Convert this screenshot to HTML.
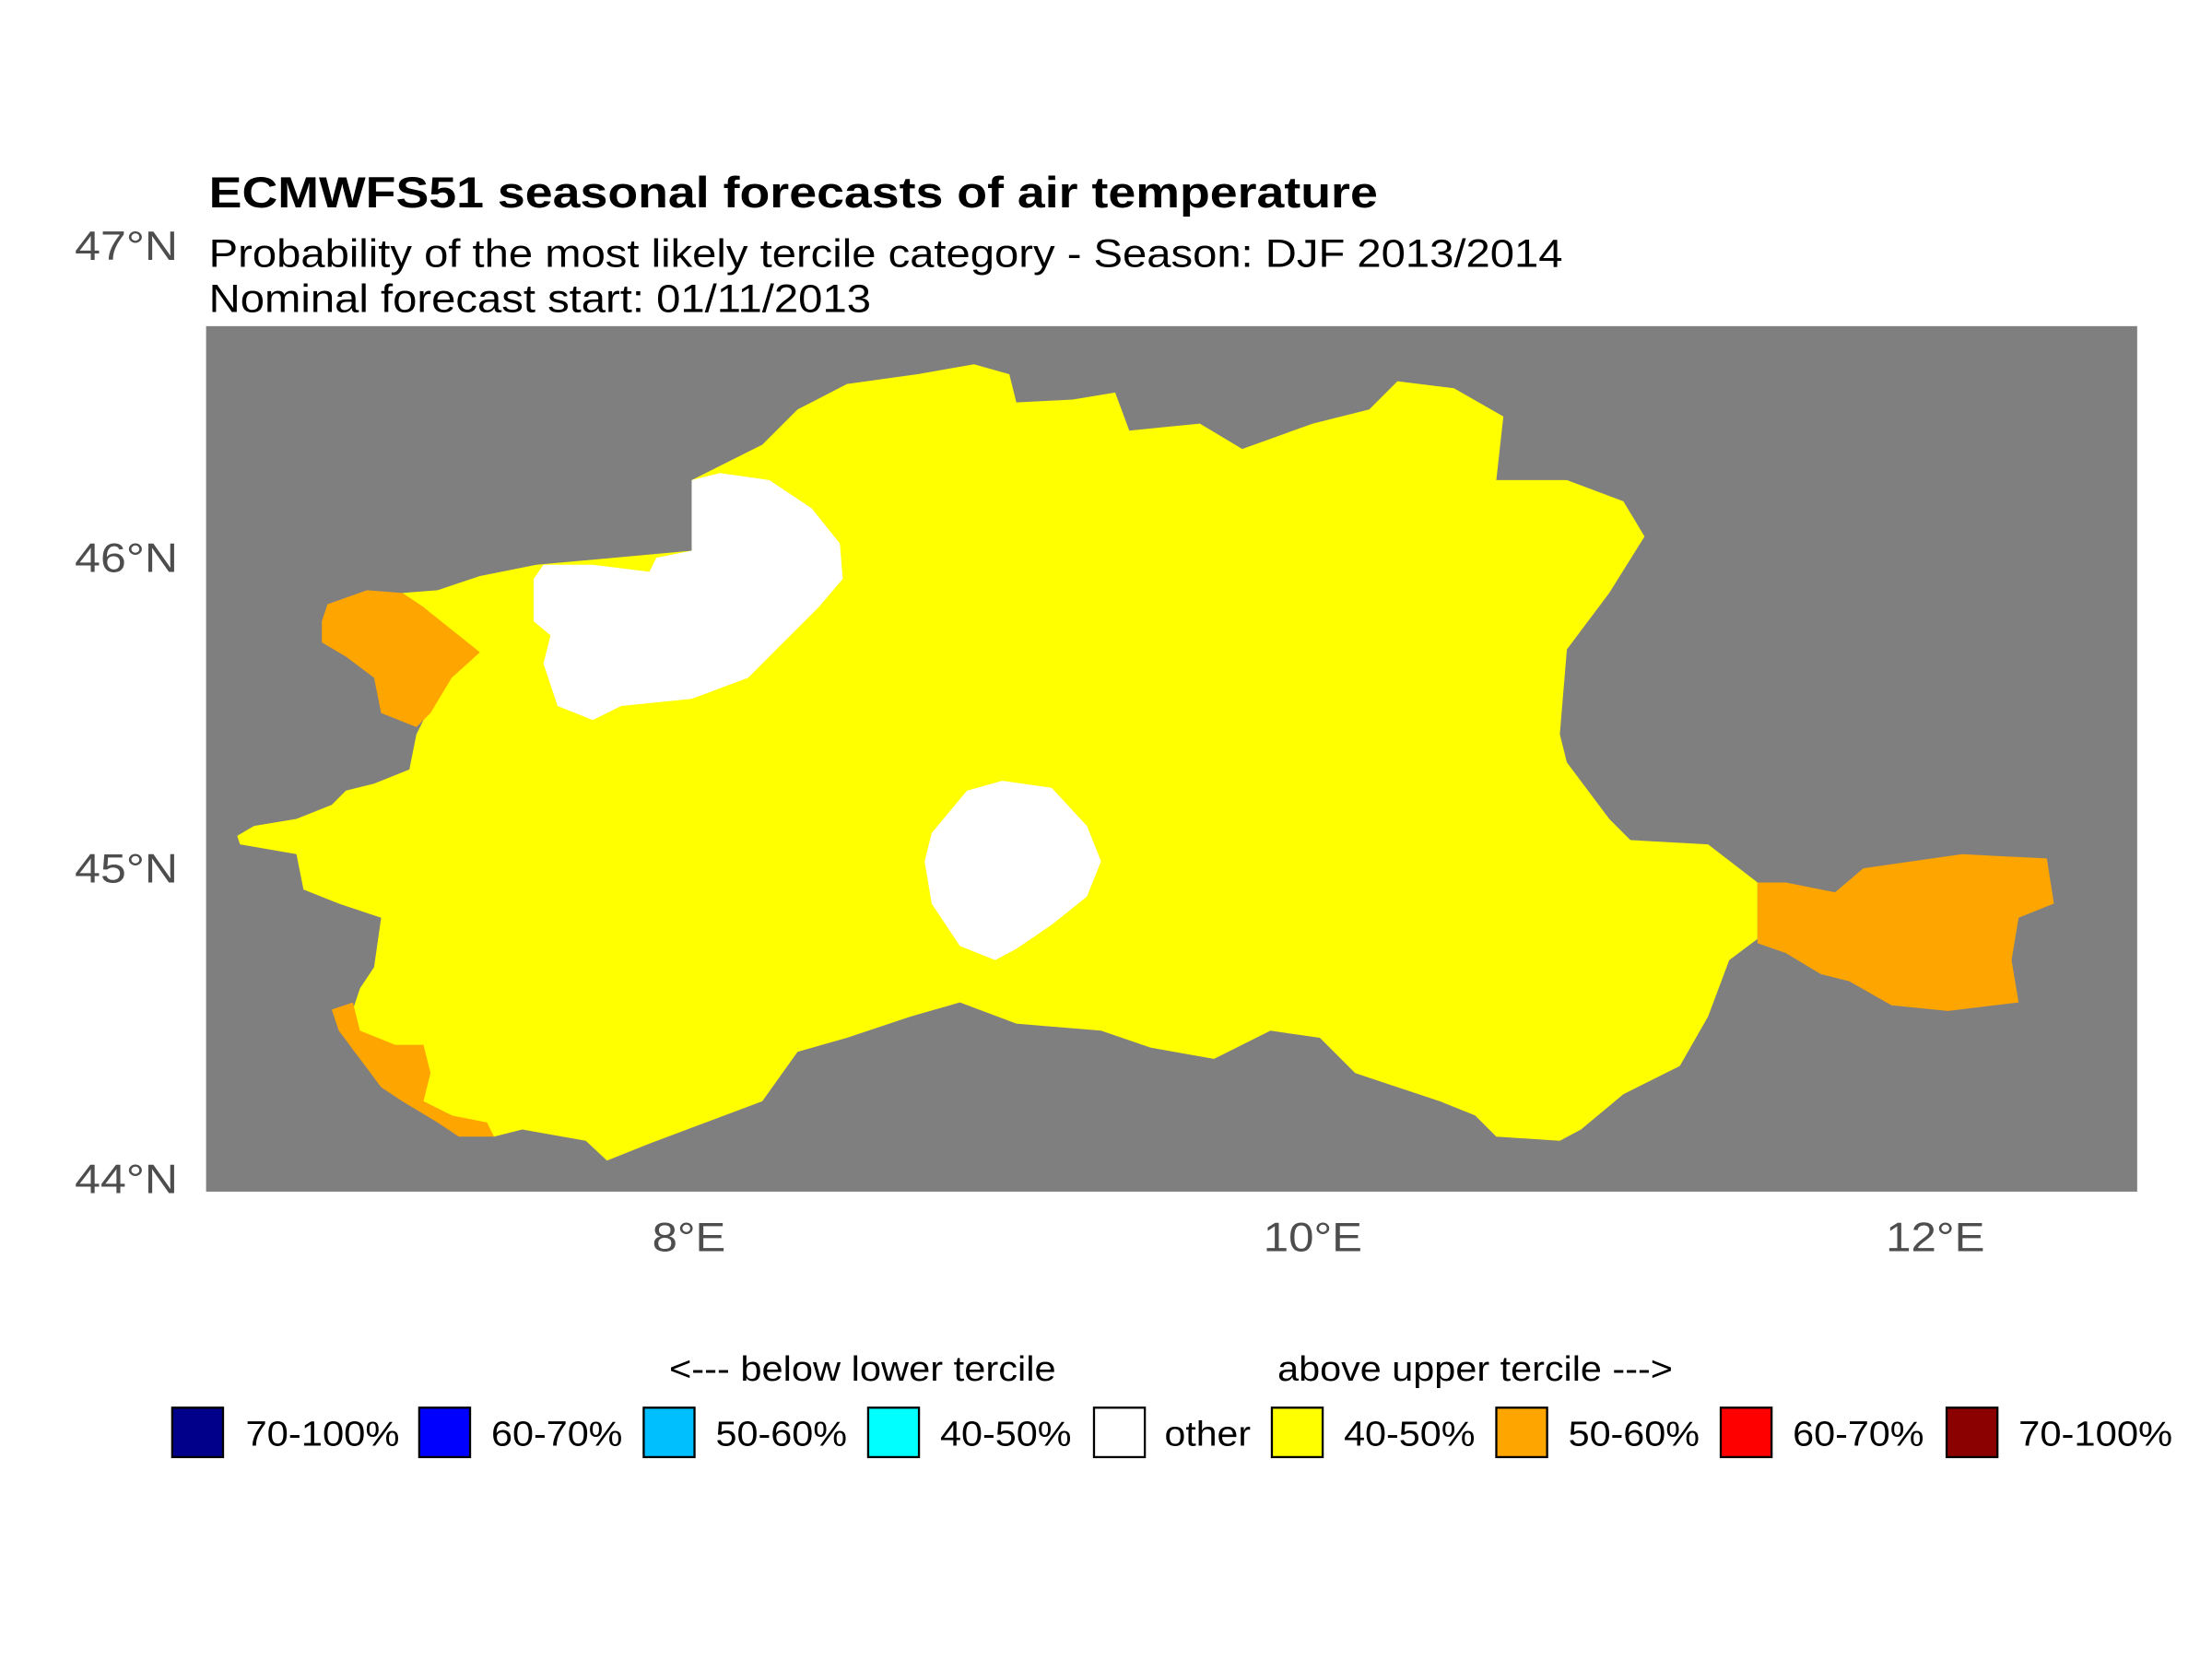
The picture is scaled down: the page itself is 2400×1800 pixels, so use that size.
<!DOCTYPE html>
<html><head><meta charset="utf-8"><style>
html,body{margin:0;padding:0;background:#fff;}
svg{display:block;}
text{font-family:"Liberation Sans",sans-serif;}
</style></head><body>
<svg width="2400" height="1800" viewBox="0 0 1567 1175" preserveAspectRatio="none" xmlns="http://www.w3.org/2000/svg">
<rect x="0" y="0" width="1567" height="1175" fill="#fff"/>
<text x="148" y="147" font-size="31" font-weight="bold" fill="#000" textLength="828" lengthAdjust="spacingAndGlyphs">ECMWFS51 seasonal forecasts of air temperature</text>
<text x="148" y="189" font-size="28" fill="#000" textLength="959" lengthAdjust="spacingAndGlyphs">Probability of the most likely tercile category - Season: DJF 2013/2014</text>
<text x="148" y="221" font-size="28" fill="#000" textLength="469" lengthAdjust="spacingAndGlyphs">Nominal forecast start: 01/11/2013</text>
<rect x="146" y="231" width="1368" height="613" fill="#7f7f7f"/>
<polygon fill="#ffff00" points="168,592 180,585 210,580 235,570 245,560 265,555 290,545 295,520 305,500 300,470 310,440 300,430 285,420 310,418 340,408 380,400 490,390 490,340 540,315 565,290 600,272 650,265 690,258 715,265 720,285 760,283 790,278 800,305 850,300 880,318 930,300 970,290 990,270 1030,275 1065,295 1060,340 1110,340 1150,355 1165,380 1140,420 1110,460 1105,520 1110,540 1140,580 1155,595 1210,598 1245,625 1245,665 1225,680 1210,720 1190,755 1150,775 1120,800 1105,808 1060,805 1045,790 1020,780 990,770 960,760 935,735 900,730 860,750 815,742 780,730 720,725 680,710 645,720 600,735 565,745 540,780 500,795 460,810 430,822 415,808 370,800 350,805 320,790 300,780 265,760 245,730 255,700 265,685 270,650 240,640 215,630 210,605 170,598"/>
<polygon fill="#ffa500" points="228,440 232,428 260,418 285,420 300,430 325,450 340,462 320,480 305,505 295,515 270,505 265,480 245,465 228,455"/>
<polygon fill="#ffa500" points="235,715 250,710 255,730 280,740 300,740 305,760 300,780 320,790 345,795 350,805 325,805 310,795 285,780 270,770 255,750 240,730"/>
<polygon fill="#ffffff" points="378,410 385,400 420,400 460,405 465,395 490,390 490,340 510,335 545,340 575,360 595,385 597,410 580,430 550,460 530,480 490,495 440,500 420,510 395,500 385,470 390,450 378,440"/>
<polygon fill="#ffffff" points="660,590 685,560 710,553 745,558 770,585 780,610 770,635 745,655 720,672 705,680 680,670 660,640 655,610"/>
<polygon fill="#ffa500" points="1245,625 1265,625 1300,632 1320,615 1390,605 1450,608 1455,640 1430,650 1425,680 1430,710 1380,716 1340,712 1310,695 1290,690 1265,675 1245,668"/>
<g font-size="29" fill="#4d4d4d" text-anchor="end">
<text x="126" y="184" textLength="73" lengthAdjust="spacingAndGlyphs">47°N</text>
<text x="126" y="405" textLength="73" lengthAdjust="spacingAndGlyphs">46°N</text>
<text x="126" y="625" textLength="73" lengthAdjust="spacingAndGlyphs">45°N</text>
<text x="126" y="845" textLength="73" lengthAdjust="spacingAndGlyphs">44°N</text>
</g>
<g font-size="29" fill="#4d4d4d" text-anchor="middle">
<text x="488" y="886" textLength="52" lengthAdjust="spacingAndGlyphs">8°E</text>
<text x="930" y="886" textLength="70" lengthAdjust="spacingAndGlyphs">10°E</text>
<text x="1371" y="886" textLength="70" lengthAdjust="spacingAndGlyphs">12°E</text>
</g>
<text x="474" y="978" font-size="25" fill="#000" textLength="274" lengthAdjust="spacingAndGlyphs">&lt;--- below lower tercile</text>
<text x="905" y="978" font-size="25" fill="#000" textLength="280" lengthAdjust="spacingAndGlyphs">above upper tercile ---&gt;</text>
<g stroke="#000" stroke-width="1.5">
<rect x="122" y="997" width="36" height="35" fill="#00008b"/>
<rect x="297" y="997" width="36" height="35" fill="#0000ff"/>
<rect x="456" y="997" width="36" height="35" fill="#00bfff"/>
<rect x="615" y="997" width="36" height="35" fill="#00ffff"/>
<rect x="775" y="997" width="36" height="35" fill="#ffffff"/>
<rect x="901" y="997" width="36" height="35" fill="#ffff00"/>
<rect x="1060" y="997" width="36" height="35" fill="#ffa500"/>
<rect x="1219" y="997" width="36" height="35" fill="#ff0000"/>
<rect x="1379" y="997" width="36" height="35" fill="#8b0000"/>
</g>
<g font-size="25" fill="#000" lengthAdjust="spacingAndGlyphs">
<text x="174" y="1024" textLength="109" lengthAdjust="spacingAndGlyphs">70-100%</text>
<text x="348" y="1024" textLength="93" lengthAdjust="spacingAndGlyphs">60-70%</text>
<text x="507" y="1024" textLength="93" lengthAdjust="spacingAndGlyphs">50-60%</text>
<text x="666" y="1024" textLength="93" lengthAdjust="spacingAndGlyphs">40-50%</text>
<text x="825" y="1024" textLength="61" lengthAdjust="spacingAndGlyphs">other</text>
<text x="952" y="1024" textLength="93" lengthAdjust="spacingAndGlyphs">40-50%</text>
<text x="1111" y="1024" textLength="93" lengthAdjust="spacingAndGlyphs">50-60%</text>
<text x="1270" y="1024" textLength="93" lengthAdjust="spacingAndGlyphs">60-70%</text>
<text x="1430" y="1024" textLength="109" lengthAdjust="spacingAndGlyphs">70-100%</text>
</g>
</svg>
</body></html>
